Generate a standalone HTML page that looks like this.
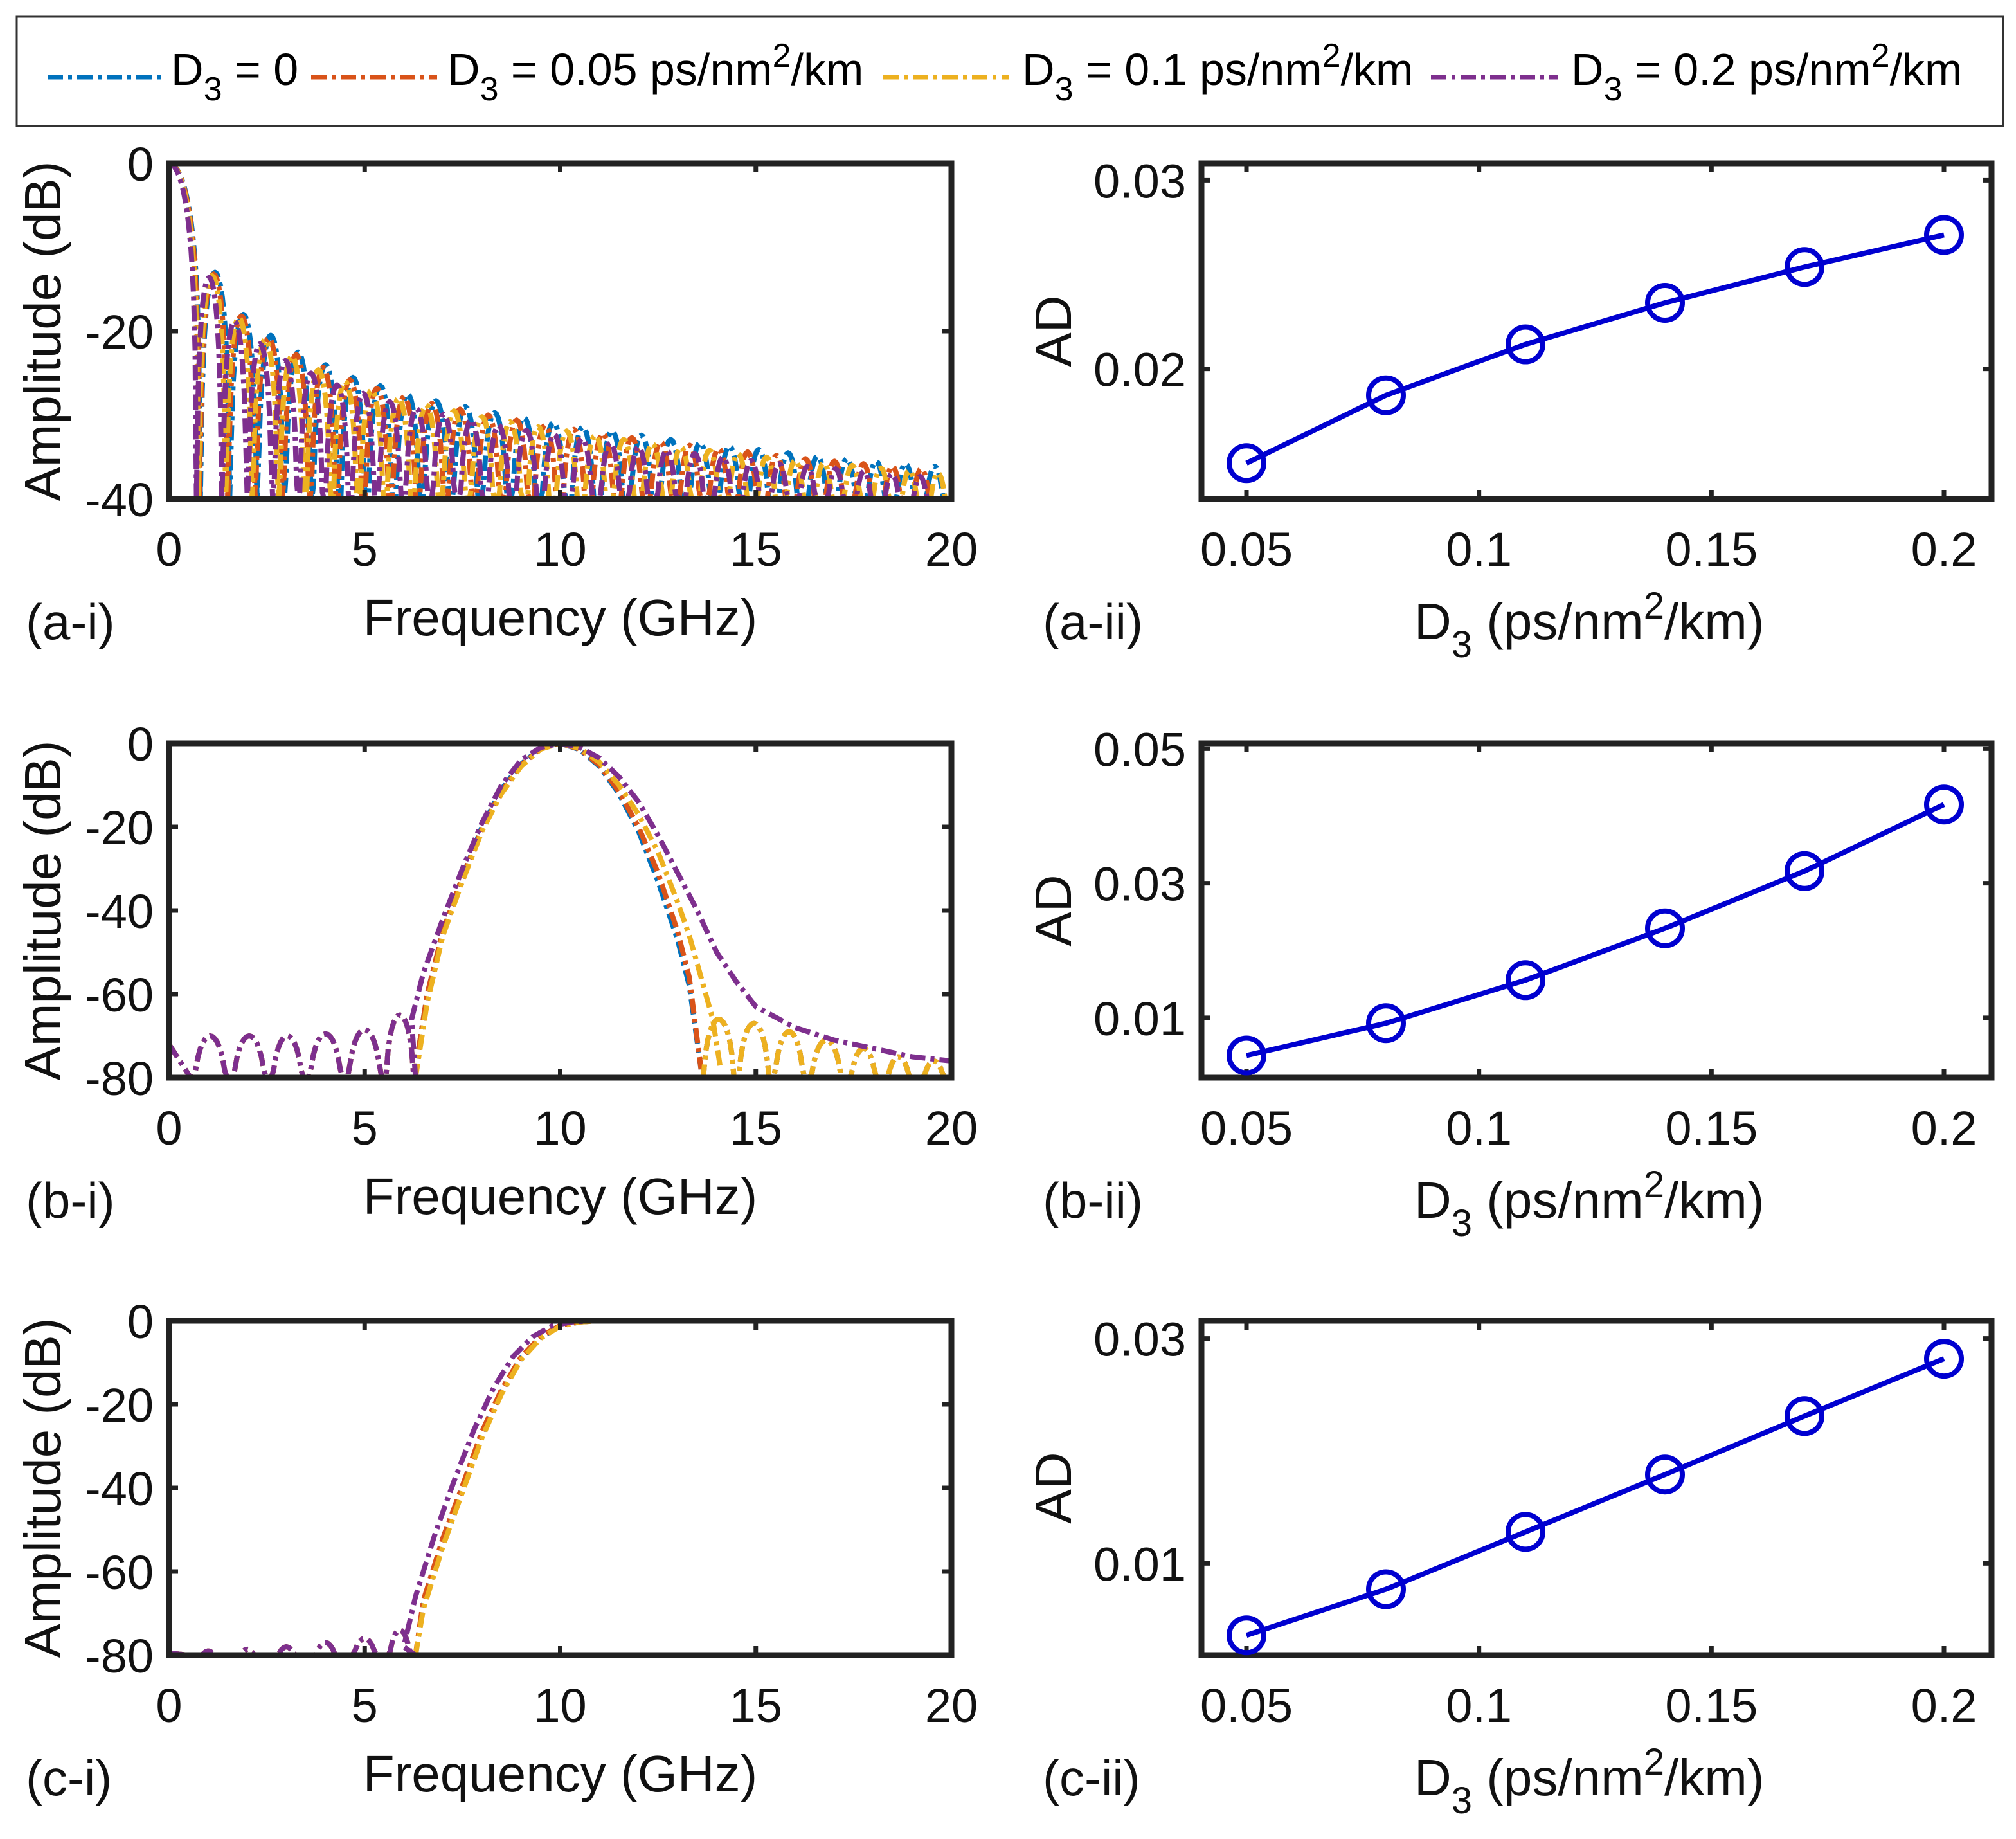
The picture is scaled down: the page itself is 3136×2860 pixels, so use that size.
<!DOCTYPE html>
<html><head><meta charset="utf-8"><style>
html,body{margin:0;padding:0;background:#fff;}
svg{display:block;font-family:"Liberation Sans",sans-serif;}
</style></head><body>
<svg id="fig" xmlns="http://www.w3.org/2000/svg" width="3136" height="2860" viewBox="0 0 3136 2860">
<rect x="0" y="0" width="3136" height="2860" fill="#fff"/>
<g>
<rect x="26" y="26" width="3090" height="170" fill="#fff" stroke="#333" stroke-width="3"/>
<g>
<line x1="74" y1="120" x2="254" y2="120" stroke="#0072BD" stroke-width="7" stroke-dasharray="24 8 6 8"/>
<text x="266" y="132" font-size="70">D<tspan font-size="52" dy="24">3</tspan><tspan dy="-24"> = 0</tspan></text></g>
<g>
<line x1="484" y1="120" x2="680" y2="120" stroke="#D95319" stroke-width="7" stroke-dasharray="24 8 6 8"/>
<text x="696" y="132" font-size="70">D<tspan font-size="52" dy="24">3</tspan><tspan dy="-24"> = 0.05 ps/nm</tspan><tspan font-size="52" dy="-28">2</tspan><tspan dy="28">/km</tspan></text></g>
<g>
<line x1="1374" y1="120" x2="1570" y2="120" stroke="#EDB120" stroke-width="7" stroke-dasharray="24 8 6 8"/>
<text x="1590" y="132" font-size="70">D<tspan font-size="52" dy="24">3</tspan><tspan dy="-24"> = 0.1 ps/nm</tspan><tspan font-size="52" dy="-28">2</tspan><tspan dy="28">/km</tspan></text></g>
<g>
<line x1="2226" y1="120" x2="2424" y2="120" stroke="#7E2F8E" stroke-width="7" stroke-dasharray="24 8 6 8"/>
<text x="2444" y="132" font-size="70">D<tspan font-size="52" dy="24">3</tspan><tspan dy="-24"> = 0.2 ps/nm</tspan><tspan font-size="52" dy="-28">2</tspan><tspan dy="28">/km</tspan></text></g>
</g>
</svg>
<script>
// ---- panel (a-i): side-lobe nulls (GHz) and lobe peak levels (dB) ----
const aNullsBlue = [0.8,1.55,2.25,2.95,3.65,4.35,5.05,5.75,6.45,7.2,7.95,8.7,9.45,10.2,10.95,11.7,12.45,13.2,13.95,14.7,15.45,16.2,16.95,17.7,18.45,19.2,19.95];
const aPeaksBlue = [-13,-18,-20.5,-22.5,-24,-25.5,-26.5,-27.5,-28.3,-29,-29.7,-30.3,-30.9,-31.4,-31.9,-32.4,-32.9,-33.3,-33.7,-34.1,-34.5,-34.9,-35.2,-35.5,-35.8,-36.1];
const aNullsOrange = [0.78,1.5,2.2,2.9,3.6,4.28,4.97,5.66,6.36,7.08,7.8,8.52,9.25,9.98,10.72,11.46,12.2,12.94,13.68,14.42,15.16,15.9,16.64,17.38,18.12,18.86,19.6];
const aPeaksOrange = [-13.2,-18.2,-20.8,-22.8,-24.3,-25.8,-26.8,-27.8,-28.6,-29.3,-30,-30.6,-31.2,-31.7,-32.2,-32.7,-33.2,-33.6,-34,-34.4,-34.8,-35.2,-35.5,-35.8,-36.1,-36.4];
const aNullsYellow = [0.75,1.45,2.12,2.8,3.48,4.16,4.84,5.52,6.22,6.93,7.64,8.36,9.08,9.8,10.53,11.26,11.99,12.72,13.45,14.18,14.91,15.64,16.37,17.1,17.83,18.56,19.29,20.02];
const aPeaksYellow = [-13.4,-18.4,-21,-23,-24.6,-26,-27,-28,-28.8,-29.5,-30.2,-30.8,-31.4,-31.9,-32.4,-32.9,-33.4,-33.8,-34.2,-34.6,-35,-35.4,-35.7,-36,-36.3,-36.6,-36.9];
const aNullsPurple = [0.7,1.35,2.0,2.65,3.3,3.96,4.63,5.3,5.98,6.67,7.37,8.07,8.78,9.49,10.2,10.92,11.64,12.36,13.08,13.8,14.52,15.24,15.96,16.68,17.4,18.12,18.84,19.56];
const aPeaksPurple = [-13.6,-18.8,-21.5,-23.5,-25,-26.4,-27.4,-28.4,-29.2,-29.9,-30.6,-31.2,-31.8,-32.3,-32.8,-33.3,-33.8,-34.2,-34.6,-35,-35.4,-35.8,-36.1,-36.4,-36.7,-37,-37.3];

// ---- panel (b-i): main lobe samples and side-lobe data ----
const bMainFreq = [6.3,6.6,7,7.5,8,8.5,9,9.5,10,10.5,11,11.5,12,12.5,13,13.3,13.6];
const bMainBlue = [-78,-60,-45,-32,-20,-11,-5,-1.2,0,-1.5,-5.5,-12,-21,-33,-47,-58,-78];
const bMainOrange = [-78,-60,-45,-32,-20.5,-11.5,-5.2,-1.3,0,-1.4,-5.2,-11.5,-20,-31,-45,-56,-78];
const bMainYellow = [-80,-62,-46,-33,-21,-12,-5.5,-1.4,0,-1.2,-4.5,-10,-17,-26,-38,-46,-56];
const bYellowTailFreq = [13.6,13.9,14.1];
const bYellowTail = [-56,-66,-78];
const bPurpleFreq = [6.2,6.5,7,7.5,8,8.5,9,9.5,10,10.5,11,11.5,12,12.5,13,13.5,14,14.5,15,16,17,18,19,20];
const bPurple = [-66,-55,-42,-30,-19,-10,-4,-1,0,-1,-3.5,-8,-14,-22,-31,-40,-50,-57,-63,-68,-71,-73,-75,-76];
const bLeftNulls = [0.55,1.55,2.55,3.5,4.5,5.5,6.3];
const bLeftPeaks = [-70,-70,-70,-69.5,-68.5,-65];
const bRightNulls = [13.6,14.5,15.4,16.3,17.3,18.2,19.1,20.0];
const bRightPeaks = [-66,-67,-69,-71,-73,-75,-76];

// ---- panel (c-i) ----
const cFreq = [6.3,6.5,7,7.5,8,8.5,9,9.5,10,10.5,11,20];
const cBlue = [-80,-68,-53,-40,-27,-17,-9,-4,-1.2,-0.3,0,0];
const cOrange = [-80,-67,-52,-39.5,-26.5,-16.5,-8.7,-3.8,-1.1,-0.3,0,0];
const cYellow = [-80,-69,-54,-41,-28,-17.5,-9.3,-4.2,-1.3,-0.3,0,0];
const cPurpleFreq = [6.0,6.3,6.8,7.3,7.8,8.3,8.8,9.3,9.8,10.3,10.8,20];
const cPurple = [-78,-66,-51,-38,-26,-16,-8.5,-3.8,-1.2,-0.3,0,0];
const cNulls = [0.5,1.5,2.5,3.5,4.5,5.5,6.3];
const cPeaks = [-79,-78.6,-78,-77,-76,-74];

// ---- right panels (AD vs D3) ----
const d3Values = [0.05,0.08,0.11,0.14,0.17,0.2];
const adA = [0.0150,0.0186,0.0213,0.0235,0.0254,0.0271];
const adB = [0.0044,0.0092,0.0156,0.0233,0.0318,0.0417];
const adC = [0.0036,0.0077,0.0128,0.0179,0.0231,0.0282];
const freqTicks = [0,5,10,15,20];
const ampTicksA = [0,-20,-40];
const ampTicksBC = [0,-20,-40,-60,-80];
const d3Ticks = [0.05,0.1,0.15,0.2];
const adTicksA = [0.02,0.03];
const adTicksB = [0.01,0.03,0.05];
const adTicksC = [0.01,0.03];

const NS = "http://www.w3.org/2000/svg";
const svg = document.getElementById('fig');
function el(tag, attrs, parent){const e=document.createElementNS(NS,tag);for(const k in attrs)e.setAttribute(k,attrs[k]);(parent||svg).appendChild(e);return e;}
const COL={blue:'#0072BD',orange:'#D95319',yellow:'#EDB120',purple:'#7E2F8E'};
const DASH='24 8 6 8';

function makeAxes(L,R,T,B,x0,x1,y0,y1){return {L,R,T,B,x:v=>L+(v-x0)/(x1-x0)*(R-L),y:v=>B-(v-y0)/(y1-y0)*(B-T)};}

function frame(ax,g,xt,yt,fmtX,fmtY){
  el('rect',{x:ax.L,y:ax.T,width:ax.R-ax.L,height:ax.B-ax.T,fill:'none',stroke:'#222','stroke-width':9},g);
  xt.forEach(v=>{const X=ax.x(v);
    el('line',{x1:X,y1:ax.B,x2:X,y2:ax.B-14,stroke:'#222','stroke-width':7},g);
    el('line',{x1:X,y1:ax.T,x2:X,y2:ax.T+14,stroke:'#222','stroke-width':7},g);
    const t=el('text',{x:X,y:ax.B+104,'font-size':74,'text-anchor':'middle',fill:'#111'},g);t.textContent=fmtX(v);
    
    });
  yt.forEach(v=>{const Y=ax.y(v);
    el('line',{x1:ax.L,y1:Y,x2:ax.L+14,y2:Y,stroke:'#222','stroke-width':7},g);
    el('line',{x1:ax.R,y1:Y,x2:ax.R-14,y2:Y,stroke:'#222','stroke-width':7},g);
    const t=el('text',{x:ax.L-24,y:Y+27,'font-size':74,'text-anchor':'end',fill:'#111'},g);t.textContent=fmtY(v);
    
    });
}

function clipFor(ax,id){const c=el('clipPath',{id});el('rect',{x:ax.L,y:ax.T-6,width:ax.R-ax.L,height:ax.B-ax.T+6},c);return 'url(#'+id+')';}

function lobes(ax,nulls,peaks,floor,start){
  let d='';
  if(start){
    for(let i=0;i<=20;i++){const t=i/20;const f=nulls[0]*t;let v=20*Math.log10(Math.max(Math.cos(Math.PI/2*t),1e-4));v=Math.max(v,floor);d+=(i?'L':'M')+ax.x(f).toFixed(1)+','+ax.y(v).toFixed(1);}
  }
  for(let k=0;k<nulls.length-1&&k<peaks.length;k++){
    const a=nulls[k],b=nulls[k+1];
    for(let i=0;i<=16;i++){const t=i/16;const f=a+(b-a)*t;let v=peaks[k]+20*Math.log10(Math.max(Math.sin(Math.PI*t),1e-4));v=Math.max(v,floor);d+=((d===''&&i===0)?'M':'L')+ax.x(f).toFixed(1)+','+ax.y(v).toFixed(1);}
  }
  return d;
}
function poly(ax,xs,ys,prefix){let d='';xs.forEach((x,i)=>{d+=((i===0&&!prefix)?'M':'L')+ax.x(x).toFixed(1)+','+ax.y(ys[i]).toFixed(1);});return d;}
function curve(g,d,color,name,clip){const p=el('path',{d,fill:'none',stroke:color,'stroke-width':8,'stroke-dasharray':DASH,'stroke-linejoin':'round','clip-path':clip},g);
  
  return p;}

function leftLabels(g,ax,tag){
  const t=el('text',{x:ax.L+(ax.R-ax.L)/2,y:ax.B+212,'font-size':80,'text-anchor':'middle',fill:'#111'},g);t.textContent='Frequency (GHz)';
  
  
  const my=(ax.T+ax.B)/2;
  const y=el('text',{x:0,y:0,'font-size':80,'text-anchor':'middle',fill:'#111',transform:'translate(94,'+my+') rotate(-90)'},g);y.textContent='Amplitude (dB)';
  
  
  const p=el('text',{x:40,y:ax.B+218,'font-size':78,fill:'#111'},g);p.textContent=tag;
  
  
}
function rightPanel(ax,vals,yt,tag,name){
  const g=el('g',{});
  
  
  frame(ax,g,d3Ticks,yt,v=>String(v),v=>String(v));
  let d='';d3Values.forEach((x,i)=>{d+=(i?'L':'M')+ax.x(x).toFixed(1)+','+ax.y(vals[i]).toFixed(1);});
  const ln=el('path',{d,fill:'none',stroke:'#0000D0','stroke-width':8},g);
  
  
  d3Values.forEach((x,i)=>{const c=el('circle',{cx:ax.x(x),cy:ax.y(vals[i]),r:27,fill:'none',stroke:'#0000D0','stroke-width':8},g);
    
    });
  const t=el('text',{x:2200,y:ax.B+218,'font-size':80,fill:'#111'},g);
  t.innerHTML='D<tspan font-size="58" dy="28">3</tspan><tspan dy="-28"> (ps/nm</tspan><tspan font-size="58" dy="-32">2</tspan><tspan dy="32">/km)</tspan>';
  
  
  const my=(ax.T+ax.B)/2;
  const y=el('text',{x:0,y:0,'font-size':80,'text-anchor':'middle',fill:'#111',transform:'translate(1666,'+my+') rotate(-90)'},g);y.textContent='AD';
  
  
  const p=el('text',{x:1622,y:ax.B+218,'font-size':78,fill:'#111'},g);p.textContent=tag;
  
  
}

const rows=[{T:254,B:776},{T:1156,B:1676},{T:2054,B:2574}];
const LL=263,LR=1480,RL=1869,RR=3098;
const rx0=0.05-(0.15*70/1085),rx1=0.2+(0.15*74/1085);

(function(){
  const ax=makeAxes(LL,LR,rows[0].T,rows[0].B,0,20,-40,0);
  const g=el('g',{});
  const clip=clipFor(ax,'ca');
  curve(g,lobes(ax,aNullsBlue,aPeaksBlue,-40,true),COL.blue,'series-d3-0',clip);
  curve(g,lobes(ax,aNullsOrange,aPeaksOrange,-40,true),COL.orange,'series-d3-005',clip);
  curve(g,lobes(ax,aNullsYellow,aPeaksYellow,-40,true),COL.yellow,'series-d3-01',clip);
  curve(g,lobes(ax,aNullsPurple,aPeaksPurple,-40,true),COL.purple,'series-d3-02',clip);
  frame(ax,g,freqTicks,ampTicksA,v=>String(v),v=>String(v));
  leftLabels(g,ax,'(a-i)');
})();
(function(){
  const ax=makeAxes(LL,LR,rows[1].T,rows[1].B,0,20,-80,0);
  const g=el('g',{});
  const clip=clipFor(ax,'cb');
  const left=lobes(ax,bLeftNulls,bLeftPeaks,-80,false);
  const startL='M'+ax.x(0)+','+ax.y(-72)+'L'+ax.x(bLeftNulls[0])+','+ax.y(-80);
  const right=lobes(ax,bRightNulls,bRightPeaks,-80,false);
  curve(g,startL+left.replace(/^M/,'L')+poly(ax,bMainFreq,bMainBlue,true)+right,COL.blue,'series-d3-0',clip);
  curve(g,startL+left.replace(/^M/,'L')+poly(ax,bMainFreq,bMainOrange,true)+right,COL.orange,'series-d3-005',clip);
  curve(g,startL+left.replace(/^M/,'L')+poly(ax,bMainFreq,bMainYellow,true)+poly(ax,bYellowTailFreq,bYellowTail,true)+right,COL.yellow,'series-d3-01',clip);
  curve(g,startL+left.replace(/^M/,'L')+poly(ax,bPurpleFreq,bPurple,true),COL.purple,'series-d3-02',clip);
  frame(ax,g,freqTicks,ampTicksBC,v=>String(v),v=>String(v));
  leftLabels(g,ax,'(b-i)');
})();
(function(){
  const ax=makeAxes(LL,LR,rows[2].T,rows[2].B,0,20,-80,0);
  const g=el('g',{});
  const clip=clipFor(ax,'cc');
  const lob='M'+ax.x(0)+','+ax.y(-79.5)+lobes(ax,cNulls,cPeaks,-80,false).replace(/^M/,'L');
  curve(g,lob+poly(ax,cFreq,cBlue,true),COL.blue,'series-d3-0',clip);
  curve(g,lob+poly(ax,cFreq,cOrange,true),COL.orange,'series-d3-005',clip);
  curve(g,lob+poly(ax,cFreq,cYellow,true),COL.yellow,'series-d3-01',clip);
  curve(g,lob+poly(ax,cPurpleFreq,cPurple,true),COL.purple,'series-d3-02',clip);
  frame(ax,g,freqTicks,ampTicksBC,v=>String(v),v=>String(v));
  leftLabels(g,ax,'(c-i)');
})();
rightPanel(makeAxes(RL,RR,rows[0].T,rows[0].B,rx0,rx1,0.0131,0.0309),adA,adTicksA,'(a-ii)','panel-a-ii');
rightPanel(makeAxes(RL,RR,rows[1].T,rows[1].B,rx0,rx1,0.0011,0.0508),adB,adTicksB,'(b-ii)','panel-b-ii');
rightPanel(makeAxes(RL,RR,rows[2].T,rows[2].B,rx0,rx1,0.00184,0.03158),adC,adTicksC,'(c-ii)','panel-c-ii');
</script>
</body></html>
